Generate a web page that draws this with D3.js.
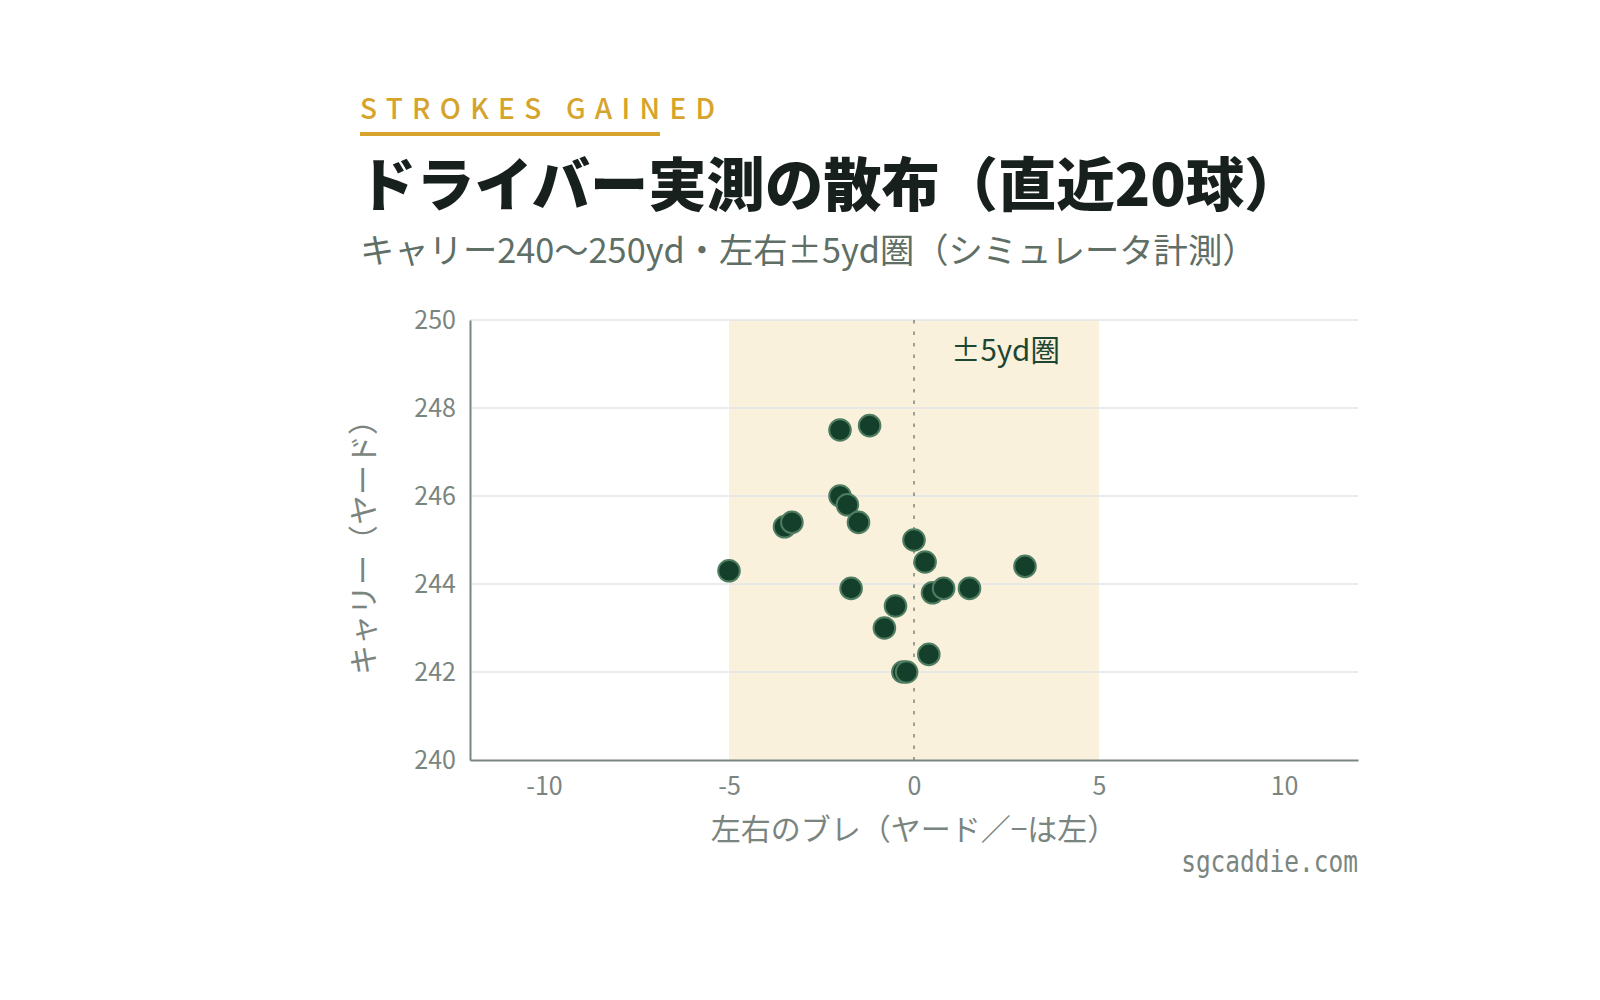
<!DOCTYPE html>
<html lang="ja">
<head>
<meta charset="utf-8">
<script src="https://cdn.jsdelivr.net/npm/d3@7"></script>
<style>
  html, body { margin: 0; padding: 0; background: #fff; }
  svg { display: block; font-family: "Noto Sans CJK JP", "Noto Sans", sans-serif; }
</style>
</head>
<body>
<div id="chart"></div>
<script>
// Drive measurements: lateral miss (yd, minus = left) and carry (yd)
const lateral = [-2.0, -1.2, -2.0, -1.8, -1.5, -3.5, -3.3, -5.0, 0.0, 0.3,
                 3.0, -1.7, 0.5, 0.8, 1.5, -0.5, -0.8, 0.4, -0.3, -0.2];
const carry = [247.5, 247.6, 246.0, 245.8, 245.4, 245.3, 245.4, 244.3, 245.0, 244.5,
               244.4, 243.9, 243.8, 243.9, 243.9, 243.5, 243.0, 242.4, 242.0, 242.0];

const xTicks = [-10, -5, 0, 5, 10];
const yTicks = [240, 242, 244, 246, 248, 250];
const xDomain = [-12, 12];
const yDomain = [240, 250];
const band = [-5, 5];

const eyebrow = 'STROKES GAINED';
const title = 'ドライバー実測の散布（直近20球）';
const subtitle = 'キャリー240〜250yd・左右±5yd圏（シミュレータ計測）';
const bandLabel = '±5yd圏';
const xTitle = '左右のブレ（ヤード／−は左）';
const yTitle = 'キャリー（ヤード）';
const credit = 'sgcaddie.com';

const width = 1600, height = 1000;
const plot = { left: 470, right: 1358, top: 320, bottom: 760 };

const svg = d3.select('#chart')
  .append('svg')
  .attr('width', width)
  .attr('height', height)
  .attr('viewBox', [0, 0, width, height]);

const x = d3.scaleLinear().domain(xDomain).range([plot.left, plot.right]);
const y = d3.scaleLinear().domain(yDomain).range([plot.bottom, plot.top]);

// Header
svg.append('text')
  .attr('x', 360).attr('y', 119)
  .attr('fill', '#d6a42c')
  .attr('font-size', 28)
  .attr('font-weight', 500)
  .attr('letter-spacing', '9.3px')
  .text(eyebrow);

svg.append('rect')
  .attr('x', 360).attr('y', 132)
  .attr('width', 300).attr('height', 4)
  .attr('fill', '#d6a42c');

svg.append('text')
  .attr('x', 358).attr('y', 206)
  .attr('fill', '#17201c')
  .attr('font-size', 58.3)
  .attr('font-weight', 900)
  .text(title);

svg.append('text')
  .attr('x', 360).attr('y', 263)
  .attr('fill', '#5f6f66')
  .attr('font-size', 34.3)
  .text(subtitle);

// ±5yd band
svg.append('rect')
  .attr('x', x(band[0]))
  .attr('y', plot.top)
  .attr('width', x(band[1]) - x(band[0]))
  .attr('height', plot.bottom - plot.top)
  .attr('fill', '#faf1dc');

// Gridlines
svg.append('g')
  .selectAll('line')
  .data(yTicks.filter(d => d !== yDomain[0]))
  .join('line')
  .attr('x1', plot.left).attr('x2', plot.right)
  .attr('y1', d => y(d)).attr('y2', d => y(d))
  .attr('stroke', '#e4e4e8')
  .attr('stroke-width', 1.5);

// zero line
svg.append('line')
  .attr('x1', x(0)).attr('x2', x(0))
  .attr('y1', plot.top).attr('y2', plot.bottom)
  .attr('stroke', '#7c8580')
  .attr('stroke-width', 1.5)
  .attr('stroke-dasharray', '3.5,8');

svg.append('text')
  .attr('x', 951).attr('y', 361)
  .attr('fill', '#1c4631')
  .attr('font-size', 29.5)
  .text(bandLabel);

// Axes
const xAxis = svg.append('g')
  .attr('transform', `translate(0,${plot.bottom})`)
  .call(d3.axisBottom(x).tickValues(xTicks).tickSize(0).tickPadding(17)
    .tickFormat(d => String(d)));

const yAxis = svg.append('g')
  .attr('transform', `translate(${plot.left},0)`)
  .call(d3.axisLeft(y).tickValues(yTicks).tickSize(0).tickPadding(14));

[xAxis, yAxis].forEach(a => {
  a.select('.domain').attr('stroke', '#7b8580').attr('stroke-width', 2);
  a.selectAll('text')
    .attr('fill', '#7b8580')
    .attr('font-size', 25)
    .attr('font-family', '"Noto Sans CJK JP", sans-serif');
});
xAxis.selectAll('text').attr('dy', '0.71em');
yAxis.selectAll('text').attr('dy', '0.34em');

svg.append('text')
  .attr('x', (plot.left + plot.right) / 2)
  .attr('y', 840)
  .attr('text-anchor', 'middle')
  .attr('fill', '#7b8580')
  .attr('font-size', 30)
  .text(xTitle);

svg.append('text')
  .attr('transform', `translate(374,${(plot.top + plot.bottom) / 2}) rotate(-90)`)
  .attr('text-anchor', 'middle')
  .attr('fill', '#7b8580')
  .attr('font-size', 30)
  .text(yTitle);

// Points
svg.append('g')
  .selectAll('circle')
  .data(lateral.map((v, i) => ({ lateral: v, carry: carry[i] })))
  .join('circle')
  .attr('cx', d => x(d.lateral))
  .attr('cy', d => y(d.carry))
  .attr('r', 10.8)
  .attr('fill', '#143f2a')
  .attr('stroke', '#4f7d61')
  .attr('stroke-width', 2);

// credit, narrow mono
svg.append('text')
  .attr('transform', `translate(${plot.right},872) scale(0.79,1)`)
  .attr('text-anchor', 'end')
  .attr('fill', '#7b8580')
  .attr('font-size', 31)
  .attr('font-family', '"DejaVu Sans Mono", monospace')
  .text(credit);
</script>
</body>
</html>
